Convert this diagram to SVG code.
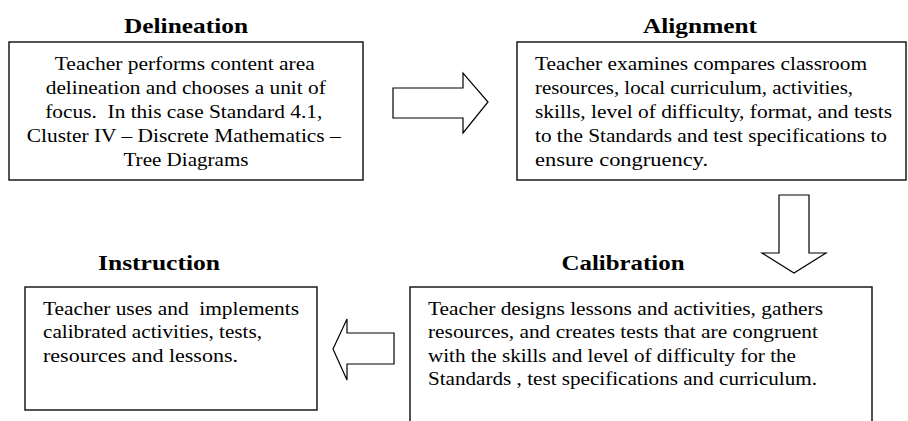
<svg xmlns="http://www.w3.org/2000/svg" width="908" height="421" viewBox="0 0 908 421">
<style>
.box{fill:#fff;stroke:#1a1a1a;stroke-width:1.5}
.title{font-weight:bold;font-size:22px;fill:#000}
.body{font-size:18px;fill:#000}
.arrow{fill:#fff;stroke:#000;stroke-width:1.2;stroke-linejoin:miter}
</style>
<rect width="908" height="421" fill="#fff"/>
<g font-family="Liberation Serif, DejaVu Serif, Noto Serif, Times New Roman, serif">
<g id="delineation">
<text class="title" x="186" y="33" text-anchor="middle" textLength="124" lengthAdjust="spacingAndGlyphs">Delineation</text>
<rect class="box" x="9" y="42" width="354" height="138"/>
<text class="body" text-anchor="middle">
<tspan x="187" y="70" textLength="260" lengthAdjust="spacingAndGlyphs">Teacher performs content area</tspan>
<tspan x="188" y="94" textLength="280" lengthAdjust="spacingAndGlyphs">delineation and chooses a unit of</tspan>
<tspan x="186" y="118" textLength="277" lengthAdjust="spacingAndGlyphs" xml:space="preserve">focus.  In this case Standard 4.1,</tspan>
<tspan x="186" y="142" textLength="314" lengthAdjust="spacingAndGlyphs">Cluster IV – Discrete Mathematics –</tspan>
<tspan x="186" y="166" textLength="125" lengthAdjust="spacingAndGlyphs">Tree Diagrams</tspan>
</text>
</g>
<g id="alignment">
<text class="title" x="700" y="33" text-anchor="middle" textLength="114" lengthAdjust="spacingAndGlyphs">Alignment</text>
<rect class="box" x="517" y="42" width="389" height="138"/>
<text class="body">
<tspan x="535" y="70" textLength="332" lengthAdjust="spacingAndGlyphs">Teacher examines compares classroom</tspan>
<tspan x="535" y="94" textLength="318" lengthAdjust="spacingAndGlyphs">resources, local curriculum, activities,</tspan>
<tspan x="535" y="118" textLength="357" lengthAdjust="spacingAndGlyphs">skills, level of difficulty, format, and tests</tspan>
<tspan x="535" y="142" textLength="352" lengthAdjust="spacingAndGlyphs">to the Standards and test specifications to</tspan>
<tspan x="535" y="166" textLength="173" lengthAdjust="spacingAndGlyphs">ensure congruency.</tspan>
</text>
</g>
<g id="calibration">
<text class="title" x="623" y="270" text-anchor="middle" textLength="123" lengthAdjust="spacingAndGlyphs">Calibration</text>
<rect class="box" x="410" y="287" width="462" height="150"/>
<text class="body">
<tspan x="428" y="315" textLength="395" lengthAdjust="spacingAndGlyphs">Teacher designs lessons and activities, gathers</tspan>
<tspan x="428" y="338" textLength="390" lengthAdjust="spacingAndGlyphs">resources, and creates tests that are congruent</tspan>
<tspan x="428" y="362" textLength="368" lengthAdjust="spacingAndGlyphs">with the skills and level of difficulty for the</tspan>
<tspan x="428" y="385" textLength="389" lengthAdjust="spacingAndGlyphs">Standards , test specifications and curriculum.</tspan>
</text>
</g>
<g id="instruction">
<text class="title" x="159" y="270" text-anchor="middle" textLength="122" lengthAdjust="spacingAndGlyphs">Instruction</text>
<rect class="box" x="25" y="287" width="292" height="123"/>
<text class="body">
<tspan x="43" y="315" textLength="256" lengthAdjust="spacingAndGlyphs" xml:space="preserve">Teacher uses and  implements</tspan>
<tspan x="43" y="338" textLength="219" lengthAdjust="spacingAndGlyphs">calibrated activities, tests,</tspan>
<tspan x="43" y="362" textLength="195" lengthAdjust="spacingAndGlyphs">resources and lessons.</tspan>
</text>
</g>
</g>
<g id="connectors">
<polygon class="arrow" points="393,88 463,88 463,73 488,102 463,133 463,118 393,118"/>
<polygon class="arrow" points="779,195 809,195 809,253 826,253 794,273 762,253 779,253"/>
<polygon class="arrow" points="394,333 347,333 347,319 333,349 347,380 347,364 394,364"/>
</g>
</svg>
